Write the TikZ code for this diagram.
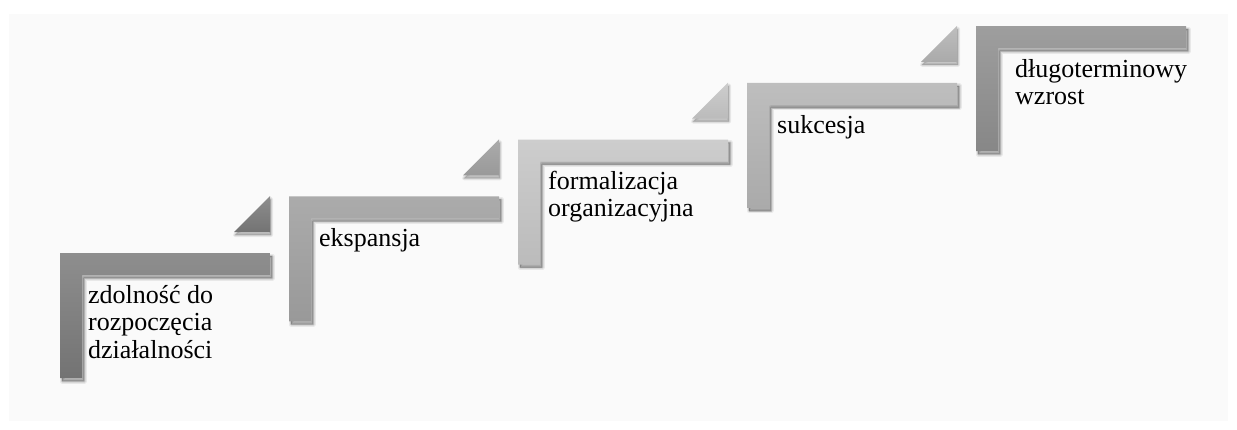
\documentclass[tikz,border=0pt]{standalone}
\usepackage{fontspec}
\setmainfont{Liberation Serif}
\begin{document}
\definecolor{panel}{HTML}{FAFAFA}
% top / bottom shades of each step
\definecolor{sAa}{HTML}{8E8E8E}\definecolor{sAb}{HTML}{737373}
\definecolor{sBa}{HTML}{ABABAB}\definecolor{sBb}{HTML}{999999}
\definecolor{sCa}{HTML}{CDCDCD}\definecolor{sCb}{HTML}{BBBBBB}
\definecolor{sDa}{HTML}{BEBEBE}\definecolor{sDb}{HTML}{AAAAAA}
\definecolor{sEa}{HTML}{9E9E9E}\definecolor{sEb}{HTML}{878787}
\begin{tikzpicture}[x=1pt,y=-1pt,
  % labels are placed by the baseline of their last line
  label/.style={anchor=base west,inner sep=0pt,align=left,
    font=\fontsize{26}{27.5}\selectfont,text=black},
  shadowlayer/.style={fill=black,draw=black,opacity=0.07,line join=round}]
\useasboundingbox (0,0) rectangle (1237,429);
\fill[white] (0,0) rectangle (1237,429);
\fill[panel] (9,14) rectangle (1228,421);

% five L-shaped steps, each with a small wedge above its right end
\foreach \i/\ca/\cb in {0/sAa/sAb,1/sBa/sBb,2/sCa/sCb,3/sDa/sDb,4/sEa/sEb}{
  \pgfmathsetmacro{\xa}{60+229*\i}
  \pgfmathsetmacro{\ya}{253-56.75*\i}
  % soft shadow
  \foreach \w in {5,3,1.5,0.2}{
    \filldraw[shadowlayer,line width=\w,shift={(2,3)}]
      (\xa,\ya) -- ({\xa+210},\ya) -- ({\xa+210},{\ya+22}) -- ({\xa+22},{\ya+22})
      -- ({\xa+22},{\ya+125}) -- (\xa,{\ya+125}) -- cycle;
  }
  \shade[top color=\ca,bottom color=\cb]
    (\xa,\ya) -- ({\xa+210},\ya) -- ({\xa+210},{\ya+22}) -- ({\xa+22},{\ya+22})
    -- ({\xa+22},{\ya+125}) -- (\xa,{\ya+125}) -- cycle;
  \ifnum\i<4
    \foreach \w in {4,2,0.2}{
      \filldraw[shadowlayer,line width=\w,shift={(1,3)}]
        ({\xa+210},{\ya-57}) -- ({\xa+210},{\ya-21}) -- ({\xa+174},{\ya-21}) -- cycle;
    }
    \shade[top color=\ca,bottom color=\cb]
      ({\xa+210},{\ya-57}) -- ({\xa+210},{\ya-21}) -- ({\xa+174},{\ya-21}) -- cycle;
  \fi
}

\node[label] (t1) at (88,358.3) {zdolność do\\rozpoczęcia\\działalności};
\node[label] (t2) at (319,246.7) {ekspansja};
\node[label] (t3) at (548,216.8) {formalizacja\\organizacyjna};
\node[label] (t4) at (777,133.3) {sukcesja};
\node[label] (t5) at (1015,104.8) {długoterminowy\\wzrost};
\end{tikzpicture}
\end{document}
